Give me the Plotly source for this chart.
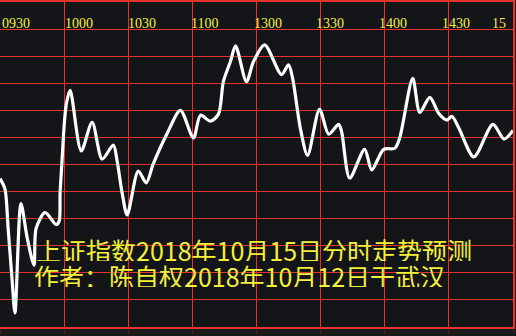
import plotly.graph_objects as go

# trading minutes since 09:30
minutes = [0, 2.3, 3.8, 5.6, 7.0, 9.8, 12.7, 15.9, 16.9, 21.1, 26.3, 27.7, 28.1, 29.0, 30.0, 31.0,
           32.8, 38.0, 43.1, 47.8, 53.0, 54.8, 57.2, 59.5, 64.7, 68.4, 71.7, 78.3, 84.4, 90.5,
           93.8, 98.4, 102.2, 104.5, 107.8, 110.2, 115.3, 118.6, 123.8, 131.7, 135.0, 136.9,
           140.6, 143.9, 149.5, 153.8, 158.4, 159.8, 163.6, 170.6, 173.9, 179.5, 184.7, 187.0,
           193.1, 196.4, 201.1, 205.3, 209.1, 211.4, 214.7, 221.7, 230.6, 235.8, 240]
index_values = [2587.4, 2585.5, 2578.2, 2569.0, 2562.6, 2582.8, 2576.5, 2571.4, 2578.2, 2581.1,
                2578.9, 2579.6, 2584.6, 2590.6, 2597.1, 2601.1, 2603.7, 2592.5, 2597.8, 2591.0,
                2593.6, 2590.6, 2584.6, 2580.7, 2588.8, 2586.6, 2590.1, 2595.8, 2600.0, 2594.9,
                2599.1, 2598.0, 2599.3, 2605.3, 2609.0, 2611.9, 2605.3, 2609.0, 2612.1, 2606.6,
                2608.4, 2605.9, 2596.5, 2591.7, 2600.2, 2595.6, 2597.4, 2596.1, 2587.5, 2592.8,
                2589.0, 2592.8, 2593.0, 2594.9, 2605.9, 2599.6, 2602.4, 2599.4, 2598.2, 2598.9,
                2596.7, 2591.4, 2597.4, 2594.7, 2596.3]

tick_minutes = [0, 30, 60, 90, 120, 150, 180, 210, 240]
tick_labels = ["0930", "1000", "1030", "1100", "1300", "1330", "1400", "1430", "15"]

title_line1 = "上证指数2018年10月15日分时走势预测"
title_line2 = "作者：陈自权2018年10月12日于武汉"

Y_MIN, Y_MAX = 2560, 2620
GRID_RED = "#e8302c"
YELLOW = "#f5f03a"
BG = "#141518"

fig = go.Figure()
fig.add_trace(go.Scatter(
    x=minutes, y=index_values, mode="lines",
    line=dict(color="white", width=3.2, shape="spline", smoothing=0.8),
    hoverinfo="skip", showlegend=False,
))

annotations = []
for i, (m, lab) in enumerate(zip(tick_minutes, tick_labels)):
    last = i == len(tick_minutes) - 1
    annotations.append(dict(
        x=m, xref="x", y=1 - 27 / 327, yref="paper",
        text=lab, showarrow=False,
        xanchor="right" if last else "left", yanchor="bottom",
        xshift=-5 if last else -1.25 * i, yshift=-4,
        font=dict(family="Liberation Serif", size=14, color=YELLOW),
    ))
for txt, ycen, xs in [(title_line1, 1 - 250 / 327, 34), (title_line2, 1 - 276 / 327, 32)]:
    annotations.append(dict(
        x=0, xref="paper", y=ycen, yref="paper", text=txt, showarrow=False,
        xanchor="left", yanchor="middle", valign="middle", height=22, xshift=xs,
        font=dict(family="Noto Sans CJK SC", size=25, color=YELLOW),
    ))

fig.update_layout(
    width=516, height=336,
    margin=dict(l=0, r=3, t=0, b=9),
    paper_bgcolor="#1a1a1c", plot_bgcolor=BG,
    annotations=annotations,
    xaxis=dict(range=[0, 240], tickvals=tick_minutes, showticklabels=False,
               showgrid=True, gridcolor=GRID_RED, gridwidth=1, zeroline=False,
               showline=True, mirror=True, linecolor=GRID_RED, linewidth=2,
               ticks="outside", ticklen=5, tickcolor="#4a1a1c", tickwidth=1),
    yaxis=dict(range=[Y_MIN, Y_MAX], dtick=5, showticklabels=False,
               showgrid=True, gridcolor=GRID_RED, gridwidth=1, zeroline=False,
               showline=True, mirror=True, linecolor=GRID_RED, linewidth=2),
)

fig.write_html("out.html")
